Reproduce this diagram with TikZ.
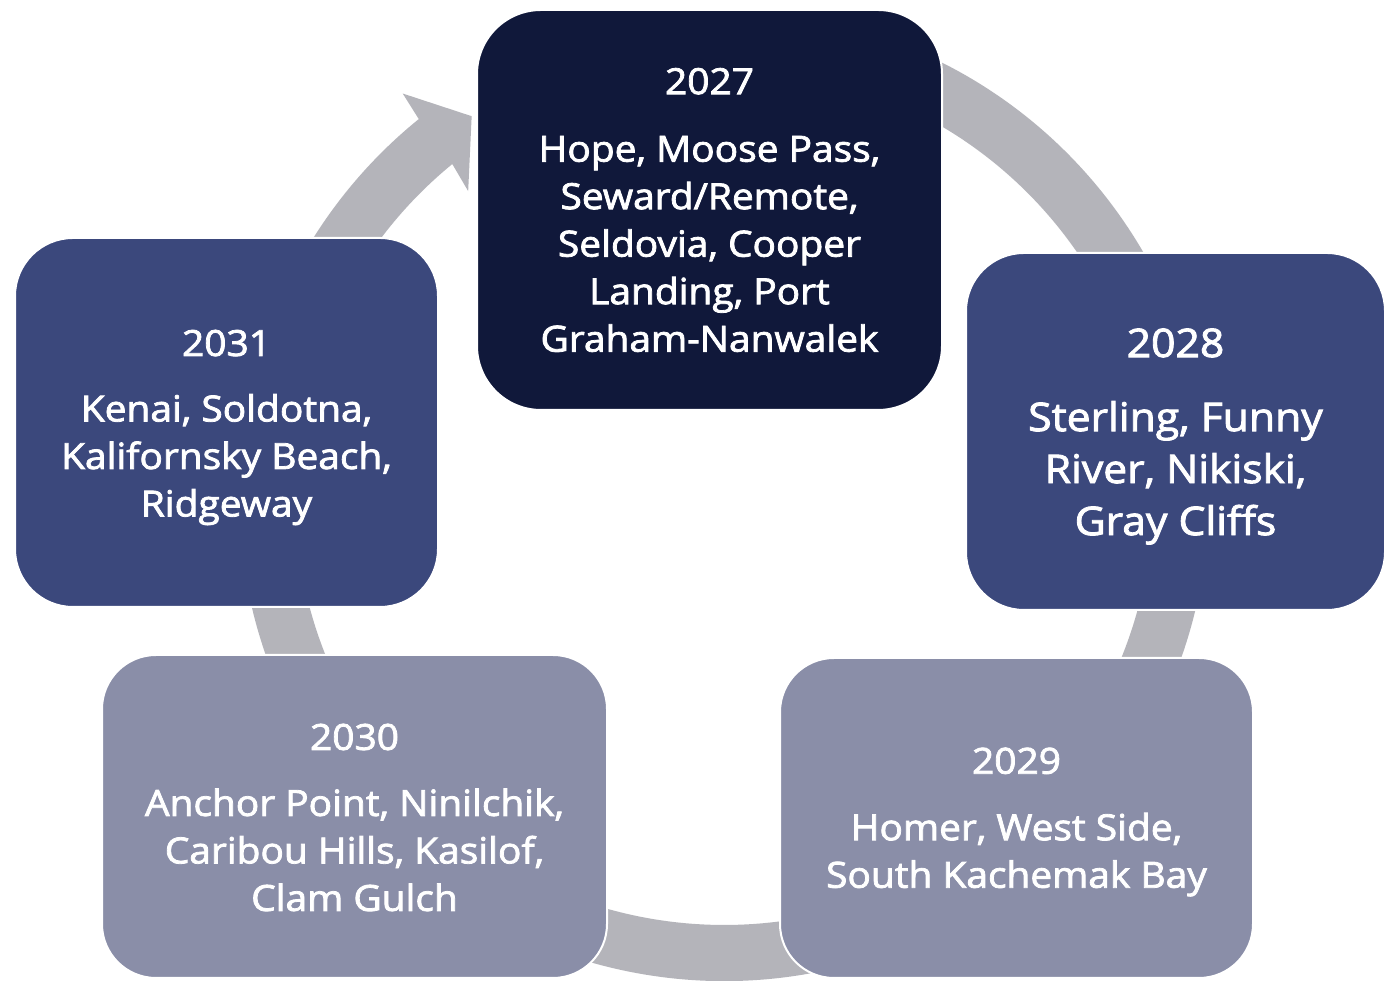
\documentclass[tikz,border=0pt]{standalone}
\usepackage{fontspec}
\setmainfont{Open Sans}[FakeBold=2.2,FakeStretch=1.08]
\usetikzlibrary{calc}
\definecolor{boxnavy}{RGB}{16,24,58}
\definecolor{boxblue}{RGB}{59,72,124}
\definecolor{boxgray}{RGB}{138,142,168}
\definecolor{ringgray}{RGB}{180,180,186}
\begin{document}
\begin{tikzpicture}[x=1pt,y=1pt,
  box/.style={draw=white, line width=2pt, inner sep=0pt},
  label text/.style={align=center, text=white, inner sep=0pt},
  txt/.style={label text, font=\fontsize{36}{47.5}\selectfont},
  bigtxt/.style={label text, font=\fontsize{39.5}{52}\selectfont}]
\useasboundingbox[fill=white] (0,0) rectangle (1390,981);
\coordinate (C) at (724,485);
% ring with arrowhead
\fill[ringgray] ($(C)+(75:485)$) arc[start angle=75, end angle=-231, radius=485]
  -- ($(C)+(128.6:515)$) -- ($(C)+(123.6:456)$) -- ($(C)+(130:398)$)
  -- ($(C)+(129.3:429)$) arc[start angle=129.3, end angle=435, radius=429] -- cycle;
% boxes
\node[box, fill=boxnavy, minimum width=465, minimum height=400, rounded corners=64] (b2027) at (709.5,771) {};
\node[box, fill=boxblue, minimum width=419, minimum height=357, rounded corners=58] (b2028) at (1175.5,549.5) {};
\node[box, fill=boxgray, minimum width=473, minimum height=320, rounded corners=54] (b2029) at (1016.5,163) {};
\node[box, fill=boxgray, minimum width=505, minimum height=323, rounded corners=54] (b2030) at (354.5,164.5) {};
\node[box, fill=boxblue, minimum width=423, minimum height=369, rounded corners=58] (b2031) at (226.5,558.5) {};
% texts
\node[txt] (t2027) at ($(b2027.center)+(0,0)$)
  {2027\\[20pt]Hope, Moose Pass,\\Seward/Remote,\\Seldovia, Cooper\\Landing, Port\\Graham-Nanwalek};
\node[bigtxt] (t2028) at ($(b2028.center)+(0,-5)$)
  {2028\\[22pt]Sterling, Funny\\River, Nikiski,\\Gray Cliffs};
\node[txt] (t2029) at ($(b2029.center)+(0,-4)$)
  {2029\\[19pt]Homer, West Side,\\South Kachemak Bay};
\node[txt] (t2030) at ($(b2030.center)+(0,-1)$)
  {2030\\[18.5pt]Anchor Point, Ninilchik,\\Caribou Hills, Kasilof,\\Clam Gulch};
\node[txt] (t2031) at ($(b2031.center)+(0,-5)$)
  {2031\\[18pt]Kenai, Soldotna,\\Kalifornsky Beach,\\Ridgeway};
\end{tikzpicture}
\end{document}
